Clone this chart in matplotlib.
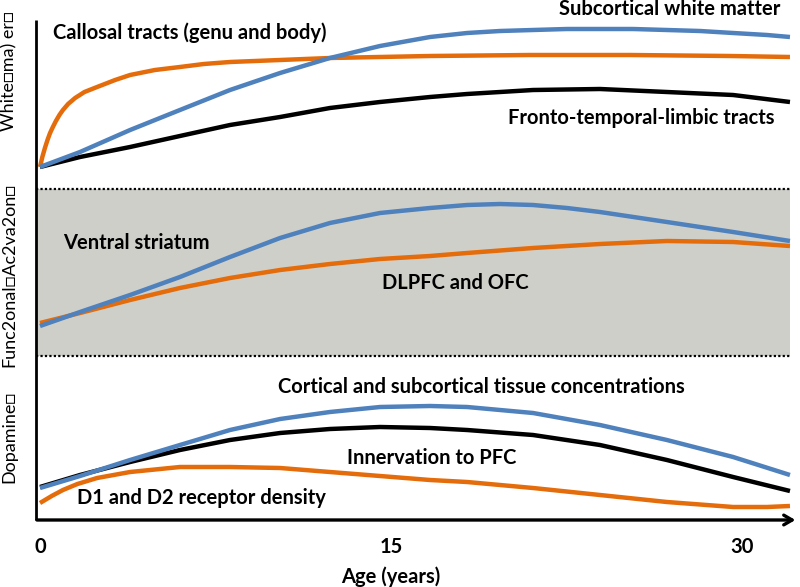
import numpy as np
import matplotlib
matplotlib.use('agg')
from matplotlib import pyplot as plt

BLUE = '#4F81BD'
ORANGE = '#E46C0A'
BLACK = '#000000'

# ages (years) and relative levels
# white matter panel
wm_sub_age = [0, 1.71, 3.85, 5.98, 8.12, 10.26, 12.39, 14.53, 16.67, 18.25, 19.66, 21.07, 22.52,
              23.93, 25.34, 26.79, 28.21, 29.62, 31.07, 32.05]
wm_sub_val = [353, 368, 390, 410, 430, 447, 462, 474, 483, 487, 489, 490, 491, 491, 491, 490, 489,
              487, 485, 483]
wm_call_age = [0, 0.1, 0.21, 0.32, 0.43, 0.55, 0.68, 0.83, 0.98, 1.2, 1.50, 1.9, 2.44, 3.21, 3.85,
               4.91, 5.98, 7.0, 8.12, 10.26, 12.39, 14.5, 16.67, 20.94, 25.21, 29.49, 32.05]
wm_call_val = [353, 363, 372, 380, 387, 393, 399, 405, 410, 416, 422, 428, 433, 440, 445, 450, 453,
               456, 458, 460, 462, 463, 464, 465, 465, 464, 463]
wm_ftl_age = [0, 1.71, 3.85, 5.98, 8.12, 10.26, 12.39, 14.53, 16.67, 18.25, 21.07, 23.93, 26.79,
              29.62, 32.05]
wm_ftl_val = [353, 363, 373, 384, 395, 403, 412, 418, 423, 426, 430, 431, 428, 425, 418]

# functional activation panel
fa_vs_age = [0, 1.71, 3.85, 5.98, 8.12, 10.26, 12.39, 14.53, 16.67, 18.25, 19.66, 21.07, 22.52,
             23.93, 26.79, 29.62, 32.05]
fa_vs_val = [194, 208, 225, 243, 263, 282, 297, 307, 312, 315, 316, 315, 312, 308, 298, 288, 279]
fa_pfc_age = [0, 1.71, 3.85, 5.98, 8.12, 10.26, 12.39, 14.53, 16.67, 18.25, 21.07, 23.93, 26.79,
              29.62, 32.05]
fa_pfc_val = [197, 207, 220, 232, 242, 250, 256, 261, 264, 267, 272, 276, 279, 278, 274]

# dopamine panel
da_age = [0, 1.71, 3.85, 5.98, 8.12, 10.26, 12.39, 14.53, 16.67, 18.25, 21.07, 23.93, 26.79,
          29.62, 32.05]
da_tissue_val = [32, 44, 60, 75, 90, 101, 108, 113, 114, 113, 107, 95, 80, 63, 45]
da_innerv_val = [33, 45, 58, 70, 80, 87, 91, 93, 92, 90, 85, 75, 60, 43, 29]
da_rec_age = [0, 0.5, 0.98, 1.6, 2.44, 3.85, 5.98, 8.12, 10.26, 12.39, 14.53, 16.67, 18.25, 21.07,
              23.93, 26.79, 29.62, 31.07, 32.05]
da_rec_val = [17, 24, 30, 36, 42, 48, 53, 53, 52, 48, 44, 40, 38, 32, 25, 18, 13, 13, 14]

band_low, band_high = 164, 331
x_ticks = [0, 15, 30]
panel_labels = ['White\u25a1ma) er\u25a1', 'Func2onal\u25a1Ac2va2on\u25a1', 'Dopamine\u25a1']

plt.rcParams['font.family'] = ['Lato', 'DejaVu Sans']

fig = plt.figure(figsize=(8, 5.87), dpi=100)
ax = fig.add_axes([0, 0, 1, 1])
ax.set_xlim(-40 / 23.4, 760 / 23.4)
ax.set_ylim(-67, 520)
ax.axis('off')

# grey band for functional activation
ax.fill_between([-0.17, 32.05], band_low, band_high, color='#CFCFCA', lw=0, zorder=0)
for yb in (band_low, band_high):
    ax.plot([-0.17, 32.05], [yb, yb], color='k', lw=1.6, ls=(0, (1, 1)), zorder=1)

lw = 3.2
kw = dict(lw=lw, solid_capstyle='butt', solid_joinstyle='round', zorder=3)
ax.plot(wm_ftl_age, wm_ftl_val, color=BLACK, **kw)
ax.plot(wm_call_age, wm_call_val, color=ORANGE, **kw)
ax.plot(wm_sub_age, wm_sub_val, color=BLUE, **kw)
ax.plot(fa_pfc_age, fa_pfc_val, color=ORANGE, **kw)
ax.plot(fa_vs_age, fa_vs_val, color=BLUE, **kw)
ax.plot(da_age, da_innerv_val, color=BLACK, **kw)
ax.plot(da_age, da_tissue_val, color=BLUE, **kw)
ax.plot(da_rec_age, da_rec_val, color=ORANGE, **kw)

# axes drawn by hand: vertical line and arrow
ax.plot([-0.17, -0.17], [0, 500], color='k', lw=2.0, solid_capstyle='butt', zorder=4)
ax.annotate('', xy=(32.4, 0), xytext=(-0.25, 0),
            arrowprops=dict(arrowstyle='->,head_length=0.6,head_width=0.35', lw=2.4, color='k'),
            zorder=4)

tfont = dict(fontsize=14.5, fontweight='bold', color='k')
ax.text(0.56, 487, 'Callosal tracts (genu and body)', ha='left', va='center', **tfont)
ax.text(31.62, 511, 'Subcortical white matter', ha='right', va='center', **tfont)
ax.text(31.41, 402, 'Fronto-temporal-limbic tracts', ha='right', va='center', **tfont)
ax.text(0.98, 277, 'Ventral striatum', ha='left', va='center', **tfont)
ax.text(14.62, 237, 'DLPFC and OFC', ha='left', va='center', **tfont)
ax.text(10.17, 133, 'Cortical and subcortical tissue concentrations', ha='left', va='center', **tfont)
ax.text(13.12, 62, 'Innervation to PFC', ha='left', va='center', **tfont)
ax.text(1.58, 22, 'D1 and D2 receptor density', ha='left', va='center', **tfont)

for t in x_ticks:
    ax.text(t, -27, str(t), ha='center', va='center', **tfont)
ax.text(15, -57, 'Age (years)', ha='center', va='center', **tfont)

for yc, lab in zip([449, 245, 83], panel_labels):
    ax.text(-1.32, yc, lab, rotation=90, ha='center', va='center', fontsize=13, color='k')

fig.savefig('out.png', dpi=100)
